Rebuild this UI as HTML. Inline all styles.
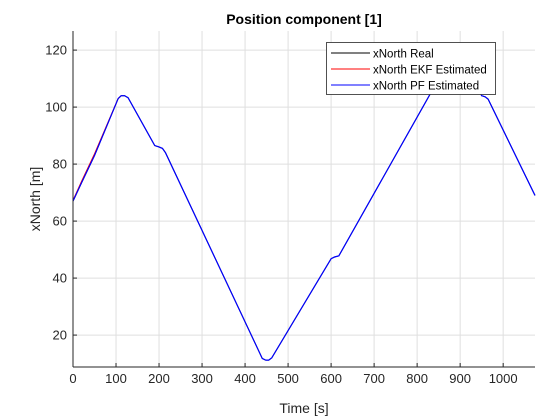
<!DOCTYPE html>
<html><head><meta charset="utf-8"><style>
body{margin:0;background:#fff;}
svg{display:block;font-family:"Liberation Sans",sans-serif;}
</style></head><body>
<svg id="chart" width="560" height="420">
<rect width="560" height="420" fill="#fff"/>
<g id="grid"></g><g id="lines"></g><g id="axes"></g>
</svg>
<script>
const timeReal=[0,20,50,105,112,120,128,190,200,208,215,440,448,455,462,600,608,618,830,880,940,950,958,965,1074];
const xNorthReal=[67,73.5,83,103,104,104,103.3,86.5,86,85.5,84,11.8,11.2,11.2,12,46.8,47.4,47.8,104.5,107,107,104,103.6,102.8,69];
const timeEkf=[0,20,50,105,112];
const xNorthEkf=[67.3,74,83.6,103,104];
const xTicks=[0,100,200,300,400,500,600,700,800,900,1000];
const yTicks=[20,40,60,80,100,120];
const L=73,R=535,T=31,B=367,xmin=0,xmax=1074,ymin=8.8,ymax=126.7;
const X=v=>L+(v-xmin)/(xmax-xmin)*(R-L);
const Y=v=>B-(v-ymin)/(ymax-ymin)*(B-T);
const NS="http://www.w3.org/2000/svg";
function mk(t,a,p){const e=document.createElementNS(NS,t);for(const k in a)e.setAttribute(k,a[k]);p.appendChild(e);return e;}
const grid=document.getElementById('grid'),lines=document.getElementById('lines'),axes=document.getElementById('axes');
xTicks.forEach(t=>{
 const g=mk('line',{x1:X(t),x2:X(t),y1:T,y2:B,stroke:'#dfdfdf','stroke-width':1},grid);
 
 
 mk('line',{x1:X(t),x2:X(t),y1:B,y2:B-4,stroke:'#262626'},axes);
 const l=mk('text',{x:X(t),y:B+16,'font-size':13,'text-anchor':'middle',fill:'#262626'},axes);
 l.textContent=t;
 
 
});
yTicks.forEach(t=>{
 const g=mk('line',{x1:L,x2:R,y1:Y(t),y2:Y(t),stroke:'#dfdfdf','stroke-width':1},grid);
 
 
 mk('line',{x1:L,x2:L+4,y1:Y(t),y2:Y(t),stroke:'#262626'},axes);
 const l=mk('text',{x:L-6,y:Y(t)+4.5,'font-size':13,'text-anchor':'end',fill:'#262626'},axes);
 l.textContent=t;
 
 
});
function pts(xs,ys){return xs.map((x,i)=>X(x)+','+Y(ys[i])).join(' ');}
const real=mk('polyline',{points:pts(timeReal,xNorthReal),fill:'none',stroke:'#000','stroke-width':1},lines);


const ekf=mk('polyline',{points:pts(timeEkf,xNorthEkf),fill:'none',stroke:'#f00','stroke-width':1},lines);


const pf=mk('polyline',{points:pts(timeReal,xNorthReal),fill:'none',stroke:'#00f','stroke-width':1.2},lines);


mk('line',{x1:L,x2:L,y1:T,y2:B,stroke:'#262626'},axes);
mk('line',{x1:L,x2:R,y1:B,y2:B,stroke:'#262626'},axes);
</script>
<svg width="560" height="420" style="position:absolute;left:0;top:0">
<text x="304" y="24" font-size="14" font-weight="bold" text-anchor="middle" fill="#000">Position component [1]</text>
<text x="304" y="413" font-size="14" text-anchor="middle" fill="#262626">Time [s]</text>
<text transform="translate(40,199) rotate(-90)" font-size="14" text-anchor="middle" fill="#262626">xNorth [m]</text>
<g>
<rect x="326.5" y="42.5" width="169" height="52" fill="#fff" stroke="#262626" stroke-width="0.8"/>
<line x1="331" x2="370" y1="53" y2="53" stroke="#000"/>
<text x="373" y="57.5" font-size="11.5" fill="#000">xNorth Real</text>
<line x1="331" x2="370" y1="69" y2="69" stroke="#f00"/>
<text x="373" y="73.5" font-size="11.5" fill="#000">xNorth EKF Estimated</text>
<line x1="331" x2="370" y1="85" y2="85" stroke="#00f"/>
<text x="373" y="89.5" font-size="11.5" fill="#000">xNorth PF Estimated</text>
</g>
</svg>
</body></html>
